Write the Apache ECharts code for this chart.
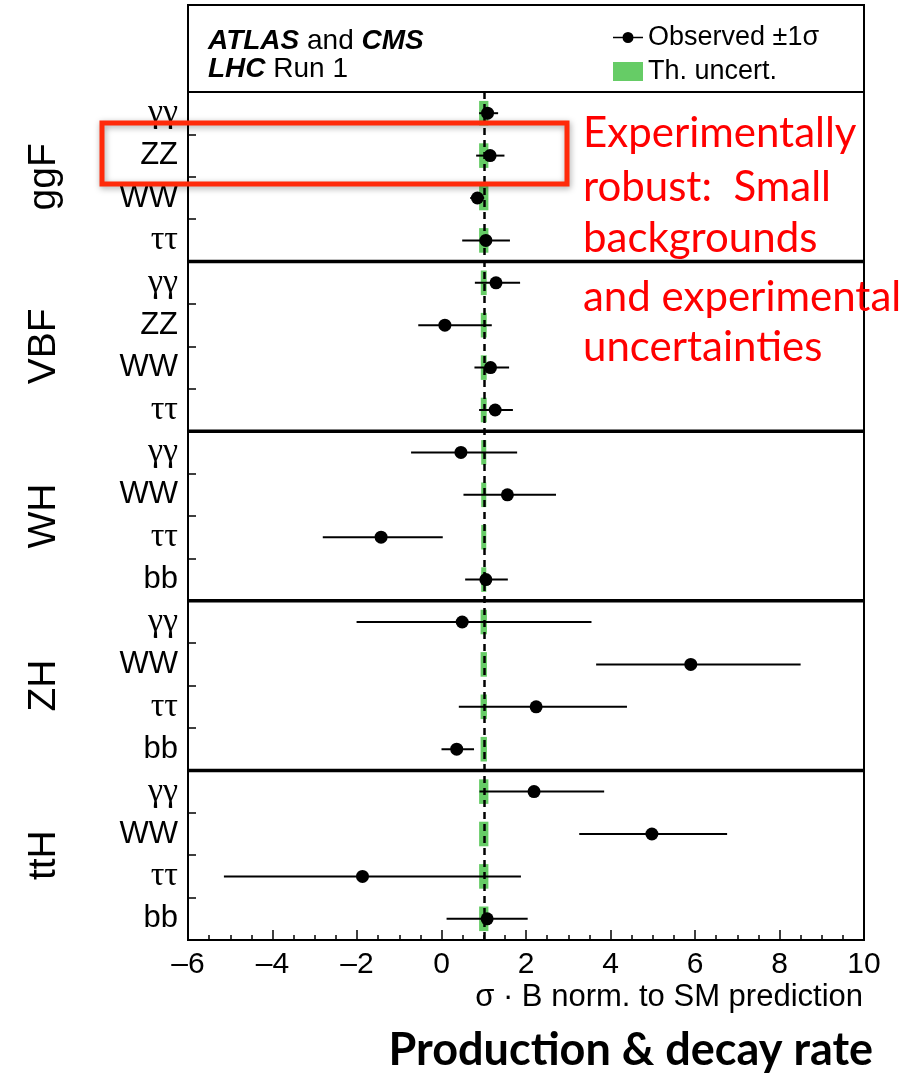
<!DOCTYPE html>
<html>
<head>
<meta charset="utf-8">
<script src="https://cdn.jsdelivr.net/npm/echarts@6/dist/echarts.min.js"></script>
<style>html,body{margin:0;padding:0;background:#fff;}#chart{width:908px;height:1074px;}</style>
</head>
<body>
<div id="chart"></div>
<script>
// ---- data ----
const groups = ['ggF', 'VBF', 'WH', 'ZH', 'ttH'];
const rowGroup = ['ggF','ggF','ggF','ggF','VBF','VBF','VBF','VBF','WH','WH','WH','WH','ZH','ZH','ZH','ZH','ttH','ttH','ttH','ttH'];
const rowDecay = ['γγ','ZZ','WW','ττ','γγ','ZZ','WW','ττ','γγ','WW','ττ','bb','γγ','WW','ττ','bb','γγ','WW','ττ','bb'];
const observed = [1.09, 1.15, 0.85, 1.05, 1.29, 0.08, 1.16, 1.27, 0.46, 1.56, -1.43, 1.05, 0.49, 5.90, 2.24, 0.36, 2.19, 4.98, -1.87, 1.08];
const errLow   = [0.89, 0.82, 0.68, 0.49, 0.79, -0.55, 0.78, 0.89, -0.72, 0.52, -2.81, 0.56, -2.01, 3.66, 0.41, 0.00, 0.90, 3.26, -5.15, 0.12];
const errHigh  = [1.34, 1.49, 1.01, 1.62, 1.86, 1.19, 1.60, 1.69, 1.79, 2.71, 0.03, 1.57, 3.55, 8.50, 4.39, 0.77, 3.85, 6.76, 1.88, 2.04];
const thHalf   = [0.11, 0.11, 0.11, 0.11, 0.07, 0.07, 0.07, 0.07, 0.06, 0.06, 0.06, 0.06, 0.075, 0.075, 0.075, 0.075, 0.11, 0.11, 0.11, 0.11];
const smValue = 1;
const groupStarts = [4, 8, 12, 16];
const xTicks = { min: -6, max: 10, interval: 2 };
const axisTitle = 'σ · B norm. to SM prediction';

const rowKeys = rowDecay.map((d, i) => rowGroup[i] + '|' + d + '|' + i);
const SANS = 'Liberation Sans, Arial, Helvetica, sans-serif';
const SERIF = 'Liberation Serif, Times New Roman, serif';
const CAL = 'Lato, Open Sans, sans-serif';

const chart = echarts.init(document.getElementById('chart'), null, { renderer: 'canvas' });

const obsIcon = 'path://M0,4.7H9.6V6.3H0Z M20.4,4.7H30V6.3H20.4Z M20.5,5.5A5.5,5.5 0 1 1 9.5,5.5A5.5,5.5 0 1 1 20.5,5.5Z';

const option = {
  animation: false,
  backgroundColor: '#fff',
  grid: { left: 188, right: 44, top: 92, bottom: 134, show: true, borderColor: '#000', borderWidth: 2, backgroundColor: 'transparent' },
  legend: [
    { data: [{ name: 'Observed ±1σ', icon: obsIcon }], left: 608, top: 19, itemWidth: 30, itemHeight: 11, selectedMode: false,
      textStyle: { fontFamily: SANS, fontSize: 27, color: '#000' } },
    { data: [{ name: 'Th. uncert.', icon: 'rect' }], left: 608, top: 53, itemWidth: 30, itemHeight: 19, selectedMode: false,
      textStyle: { fontFamily: SANS, fontSize: 27, color: '#000' } }
  ],
  xAxis: {
    type: 'value', min: xTicks.min, max: xTicks.max, interval: xTicks.interval,
    axisLine: { show: true, onZero: false, lineStyle: { color: '#000', width: 2 } },
    axisTick: { show: true, inside: true, length: 10, lineStyle: { color: '#000', width: 1.5 } },
    minorTick: { show: true, splitNumber: 4, length: 5, lineStyle: { color: '#000', width: 1.5 } },
    splitLine: { show: false },
    axisLabel: { margin: 10, fontFamily: SANS, fontSize: 30, color: '#000',
      formatter: v => (v < 0 ? '–' + Math.abs(v) : String(v)) },
    name: axisTitle, nameLocation: 'end', nameGap: -1,
    nameTextStyle: { fontFamily: SANS, fontSize: 31, color: '#000', align: 'right', verticalAlign: 'top', padding: [42, 0, 0, 0] }
  },
  yAxis: [
    {
      type: 'category', data: rowKeys, inverse: true,
      axisLine: { show: true, onZero: false, lineStyle: { color: '#000', width: 2 } },
      axisTick: { show: true, inside: true, length: 8, interval: 0, lineStyle: { color: '#000', width: 1.5 } },
      splitLine: { show: false },
      axisLabel: {
        interval: 0, margin: 10, color: '#000',
        formatter: (val) => {
          const d = val.split('|')[1];
          return /[γτ]/.test(d) ? '{g|' + d + '}' : '{l|' + d + '}';
        },
        rich: {
          g: { fontFamily: SERIF, fontSize: 34, color: '#000' },
          l: { fontFamily: SANS, fontSize: 31, color: '#000' }
        }
      }
    },
    {
      type: 'category', data: groups, inverse: true, position: 'left',
      axisLine: { show: false, onZero: false }, axisTick: { show: false }, splitLine: { show: false },
      axisLabel: { interval: 0, rotate: 90, margin: 124, fontFamily: SANS, fontSize: 39, color: '#000' }
    }
  ],
  series: [
    {
      name: 'Th. uncert.', type: 'custom', z: 1,
      itemStyle: { color: '#66CC66' },
      encode: { x: [0, 1], y: 2 },
      data: rowKeys.map((k, i) => [smValue - thHalf[i], smValue + thHalf[i], i]),
      renderItem: (params, api) => {
        const a = api.coord([api.value(0), api.value(2)]);
        const b = api.coord([api.value(1), api.value(2)]);
        const h = api.size([0, 1])[1] * 0.58;
        return { type: 'rect', shape: { x: a[0], y: a[1] - h / 2, width: b[0] - a[0], height: h }, style: { fill: '#66CC66' } };
      }
    },
    {
      name: 'SM', type: 'line', z: 2, data: [], silent: true,
      markLine: {
        silent: true, symbol: 'none', label: { show: false },
        lineStyle: { color: '#000', width: 2.5, type: [7, 5] },
        data: [{ xAxis: smValue }]
      }
    },
    {
      name: 'errors', type: 'custom', z: 3,
      encode: { x: [0, 1], y: 2 },
      data: rowKeys.map((k, i) => [errLow[i], errHigh[i], i]),
      renderItem: (params, api) => {
        const a = api.coord([api.value(0), api.value(2)]);
        const b = api.coord([api.value(1), api.value(2)]);
        return { type: 'line', shape: { x1: a[0], y1: a[1], x2: b[0], y2: b[1] }, style: { stroke: '#000', lineWidth: 2 } };
      }
    },
    {
      name: 'Observed ±1σ', type: 'scatter', z: 4,
      symbol: 'circle', symbolSize: 13, itemStyle: { color: '#000', opacity: 1 },
      data: observed.map((v, i) => [v, i])
    },
    {
      name: 'separators', type: 'custom', z: 5,
      encode: { x: 0, y: 1 },
      data: groupStarts.map(i => [xTicks.min, i]),
      renderItem: (params, api) => {
        const c = api.coord([api.value(0), api.value(1)]);
        const h = api.size([0, 1])[1];
        const y = c[1] - h / 2;
        const cs = params.coordSys;
        return { type: 'line', shape: { x1: cs.x, y1: y, x2: cs.x + cs.width, y2: y }, style: { stroke: '#000', lineWidth: 3.5 } };
      }
    }
  ],
  graphic: [
    { type: 'rect', shape: { x: 188, y: 5, width: 676, height: 87 }, style: { fill: 'none', stroke: '#000', lineWidth: 2 }, z: 10 },
    { type: 'text', x: 208, y: 41, z: 10, style: { text: '{b|ATLAS} and {b|CMS}', textVerticalAlign: 'middle', fontFamily: SANS, fontSize: 28, fill: '#000',
        rich: { b: { fontFamily: SANS, fontSize: 28, fontWeight: 'bold', fontStyle: 'italic' } } } },
    { type: 'text', x: 208, y: 69, z: 10, style: { text: '{b|LHC} Run 1', textVerticalAlign: 'middle', fontFamily: SANS, fontSize: 28, fill: '#000',
        rich: { b: { fontFamily: SANS, fontSize: 28, fontWeight: 'bold', fontStyle: 'italic' } } } },
    { type: 'rect', z: 20, shape: { x: 102, y: 123, width: 465, height: 61 },
      style: { fill: 'none', stroke: '#FF2A0A', lineWidth: 5, shadowBlur: 6, shadowColor: 'rgba(0,0,0,0.35)', shadowOffsetX: 1, shadowOffsetY: 2 } },
    { type: 'text', x: 583, y: 133, z: 20, style: { text: 'Experimentally', textVerticalAlign: 'middle', fontFamily: CAL, fontSize: 42, fill: '#FF0000' } },
    { type: 'text', x: 583, y: 187, z: 20, style: { text: 'robust:  Small', textVerticalAlign: 'middle', fontFamily: CAL, fontSize: 42, fill: '#FF0000' } },
    { type: 'text', x: 583, y: 238, z: 20, style: { text: 'backgrounds', textVerticalAlign: 'middle', fontFamily: CAL, fontSize: 42, fill: '#FF0000' } },
    { type: 'text', x: 583, y: 297, z: 20, style: { text: 'and experimental', textVerticalAlign: 'middle', fontFamily: CAL, fontSize: 42, fill: '#FF0000' } },
    { type: 'text', x: 583, y: 347, z: 20, style: { text: 'uncertainties', textVerticalAlign: 'middle', fontFamily: CAL, fontSize: 42, fill: '#FF0000' } },
    { type: 'text', x: 873, y: 1050, z: 20, style: { text: 'Production & decay rate', textAlign: 'right', textVerticalAlign: 'middle', fontFamily: CAL, fontWeight: 'bold', fontSize: 45, fill: '#000' } }
  ]
};
chart.setOption(option);
</script>
</body>
</html>
